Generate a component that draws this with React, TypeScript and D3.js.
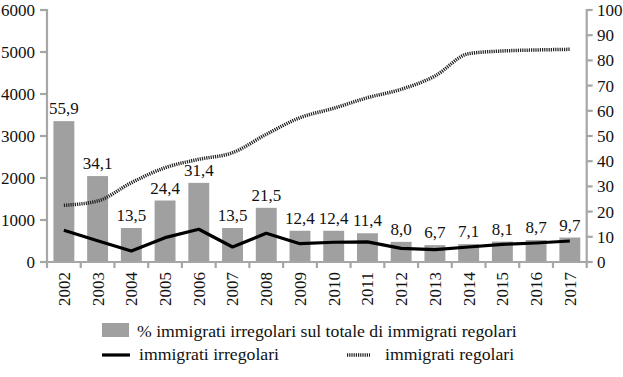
import React from "react";
import * as d3 from "d3";

const years = ["2002","2003","2004","2005","2006","2007","2008","2009","2010","2011","2012","2013","2014","2015","2016","2017"];
const pctIrregolari = [55.9,34.1,13.5,24.4,31.4,13.5,21.5,12.4,12.4,11.4,8.0,6.7,7.1,8.1,8.7,9.7];
const irregolari = [755,505,262,580,780,357,683,436,470,480,326,293,357,421,452,500];
const regolari = [1350,1452,1888,2245,2445,2602,3040,3436,3660,3912,4112,4428,4960,5024,5048,5064];
const leftTicks = [0,1000,2000,3000,4000,5000,6000];
const rightTicks = [0,10,20,30,40,50,60,70,80,90,100];

const W = 623, H = 377;
const x0 = 47, x1 = 586.7, yTop = 10, yBot = 262;
const AXIS = "#a6a6a6";

function T(props: any) {
  const { children, ...rest } = props;
  return (
    <text fontFamily="Liberation Serif" style={{ fontFamily: "Liberation Serif" }} fill="#111" {...rest}>{children}</text>
  );
}

export default function App() {
  const x = d3.scaleBand<string>().domain(years).range([x0, x1]).paddingInner(0.38).paddingOuter(0.19);
  const xb = d3.scaleBand<string>().domain(years).range([x0, x1]);
  const yL = d3.scaleLinear().domain([0, 6000]).range([yBot, yTop]);
  const yR = d3.scaleLinear().domain([0, 100]).range([yBot, yTop]);
  const cx = (y: string) => (xb(y) as number) + xb.bandwidth() / 2;

  const lineIrr = d3.line<number>().x((_, i) => cx(years[i])).y(d => yL(d));
  const lineReg = d3.line<number>().x((_, i) => cx(years[i])).y(d => yL(d)).curve(d3.curveMonotoneX);

  const fmt = (v: number) => v.toFixed(1).replace(".", ",");

  return (
    <svg width={W} height={H} style={{ position: "absolute", left: 0, top: 0, background: "#fff" }}>
      <style>{"text { font-family: 'Liberation Serif'; }"}</style>
      {pctIrregolari.map((v, i) => (
        <rect key={"b" + i} x={x(years[i])} y={yR(v)} width={x.bandwidth()} height={yBot - yR(v)} fill="#a0a0a0" />
      ))}
      {pctIrregolari.map((v, i) => (
        <T key={"bl" + i} x={cx(years[i])} y={yR(v) - 7} textAnchor="middle" fontSize={17}>{fmt(v)}</T>
      ))}
      <path d={lineReg(regolari) || ""} fill="none" stroke="#222" strokeWidth={3.5} strokeDasharray="1.2,1" />
      <path d={lineIrr(irregolari) || ""} fill="none" stroke="#000" strokeWidth={3.2} strokeLinejoin="round" />
      <line x1={x0} x2={x0} y1={yTop - 1} y2={yBot} stroke={AXIS} strokeWidth={2.2} />
      {leftTicks.map(t => (
        <g key={"lt" + t}>
          <line x1={x0 - 7} x2={x0} y1={yL(t)} y2={yL(t)} stroke={AXIS} strokeWidth={2.2} />
          <T x={35} y={yL(t)} dy="0.35em" textAnchor="end" fontSize={17}>{t}</T>
        </g>
      ))}
      <line x1={x1} x2={x1} y1={yTop - 1} y2={yBot} stroke={AXIS} strokeWidth={2.2} />
      {rightTicks.map(t => (
        <g key={"rt" + t}>
          <line x1={x1} x2={x1 + 6} y1={yR(t)} y2={yR(t)} stroke={AXIS} strokeWidth={2.2} />
          <T x={597} y={yR(t)} dy="0.35em" textAnchor="start" fontSize={17}>{t}</T>
        </g>
      ))}
      <line x1={x0} x2={x1} y1={yBot} y2={yBot} stroke={AXIS} strokeWidth={2.2} />
      {years.map((yr, i) => (
        <line key={"xt" + i} x1={xb(yr)} x2={xb(yr)} y1={yBot} y2={yBot + 6} stroke={AXIS} strokeWidth={2.2} />
      ))}
      <line x1={x1} x2={x1} y1={yBot} y2={yBot + 6} stroke={AXIS} strokeWidth={2.2} />
      {years.map(yr => (
        <T key={"xl" + yr} transform={`translate(${cx(yr)},272) rotate(-90)`} dy="0.35em" textAnchor="end" fontSize={17}>{yr}</T>
      ))}
      <rect x={102} y={323} width={27} height={14} fill="#a0a0a0" />
      <T x={137} y={336.5} fontSize={17.7}>% immigrati irregolari sul totale di immigrati regolari</T>
      <line x1={102} x2={130} y1={355} y2={355} stroke="#000" strokeWidth={3.2} />
      <T x={139} y={360} fontSize={17.7}>immigrati irregolari</T>
      <line x1={347} x2={370} y1={355} y2={355} stroke="#222" strokeWidth={3.5} strokeDasharray="1.2,1" />
      <T x={385} y={360} fontSize={17.7}>immigrati regolari</T>
    </svg>
  );
}
